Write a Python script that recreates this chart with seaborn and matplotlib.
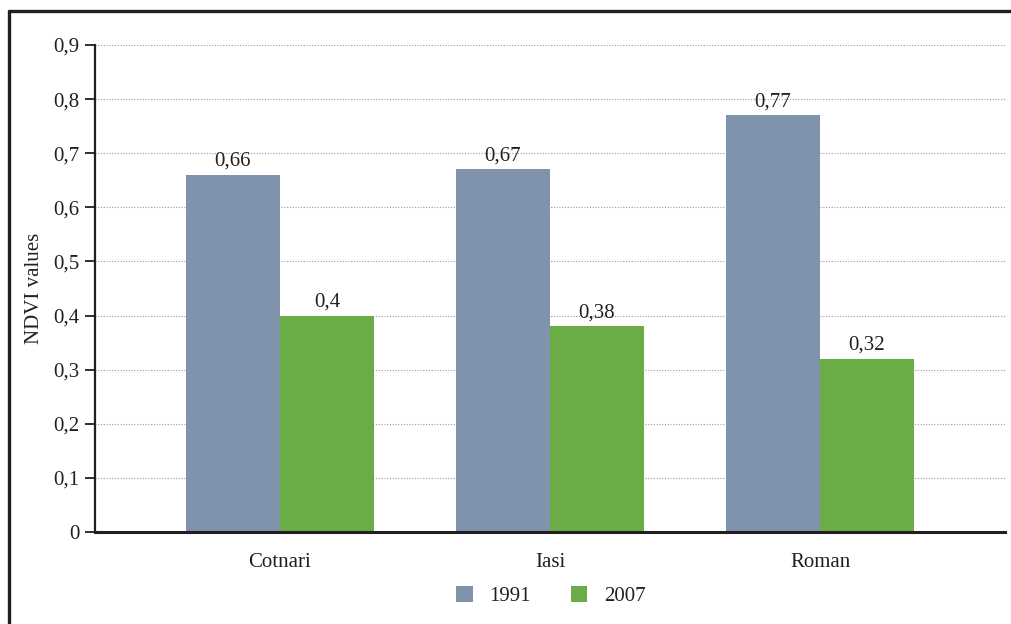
import matplotlib
matplotlib.use("Agg")
import matplotlib.pyplot as plt
from matplotlib.lines import Line2D
from matplotlib.patches import Patch
from matplotlib.ticker import FuncFormatter
import seaborn as sns
import pandas as pd

# NDVI values per town and year
towns = ["Cotnari", "Iasi", "Roman"]
years = ["1991", "2007"]
ndvi_1991 = [0.66, 0.67, 0.77]
ndvi_2007 = [0.40, 0.38, 0.32]
y_ticks = [0, 0.1, 0.2, 0.3, 0.4, 0.5, 0.6, 0.7, 0.8, 0.9]

colors = {"1991": "#7f93ad", "2007": "#6aac46"}
ink = "#231f20"
fs = 15

df = pd.DataFrame({
    "Town": towns * 2,
    "Year": [years[0]] * len(towns) + [years[1]] * len(towns),
    "NDVI": ndvi_1991 + ndvi_2007,
})

sns.set_theme(style="white")
plt.rcParams["font.family"] = ["Liberation Serif", "DejaVu Serif"]
plt.rcParams["text.color"] = ink

fig = plt.figure(figsize=(10.12, 6.24), dpi=100)
ax = fig.add_axes([95 / 1012, 1 - 532 / 624, (1005 - 95) / 1012, (532 - 45) / 624])

sns.barplot(data=df, x="Town", y="NDVI", hue="Year", order=towns,
            hue_order=years, palette=colors, width=0.696, gap=0,
            saturation=1, linewidth=0, edgecolor="none",
            ax=ax, legend=False, errorbar=None)

ax.set_ylim(0, 0.9)
ax.set_xlim(-0.685, 2.685)
ax.set_yticks(y_ticks)
comma = lambda v, pos=None: ("%g" % round(v, 2)).replace(".", ",")
ax.yaxis.set_major_formatter(FuncFormatter(comma))
ax.grid(axis="y", linestyle=(0, (1, 1.5)), color="#9a9a9a", linewidth=0.8)
ax.set_axisbelow(True)

for c in ax.containers:
    ax.bar_label(c, labels=[comma(b.get_height()) for b in c], padding=3,
                 fontsize=fs, color=ink)

for s in ["top", "right"]:
    ax.spines[s].set_visible(False)
ax.spines["left"].set_color(ink)
ax.spines["left"].set_linewidth(1.6)
ax.spines["bottom"].set_color(ink)
ax.spines["bottom"].set_linewidth(2.2)
ax.spines["bottom"].set_zorder(5)

ax.tick_params(axis="y", left=True, length=7, width=1.3, color=ink,
               labelsize=fs, labelcolor=ink, pad=4)
ax.tick_params(axis="x", bottom=False, labelsize=fs, labelcolor=ink, pad=9)
ax.set_xlabel("")
ax.set_ylabel("NDVI values", fontsize=fs, color=ink, labelpad=7)

handles = [Patch(facecolor=colors[y], edgecolor="none", label=y) for y in years]
fig.legend(handles=handles, loc="center", bbox_to_anchor=(551 / 1012, 1 - 596 / 624),
           ncol=2, frameon=False, fontsize=fs, handlelength=0.8, handleheight=0.8,
           handletextpad=0.8, columnspacing=1.9)

# outer frame (top and left edges)
fig.add_artist(Line2D([9 / 1012, 1], [1 - 11 / 624, 1 - 11 / 624],
                      transform=fig.transFigure, color=ink, linewidth=2.4))
fig.add_artist(Line2D([9 / 1012, 9 / 1012], [0, 1 - 11 / 624],
                      transform=fig.transFigure, color=ink, linewidth=2.4))

fig.savefig("out.png", dpi=100)
